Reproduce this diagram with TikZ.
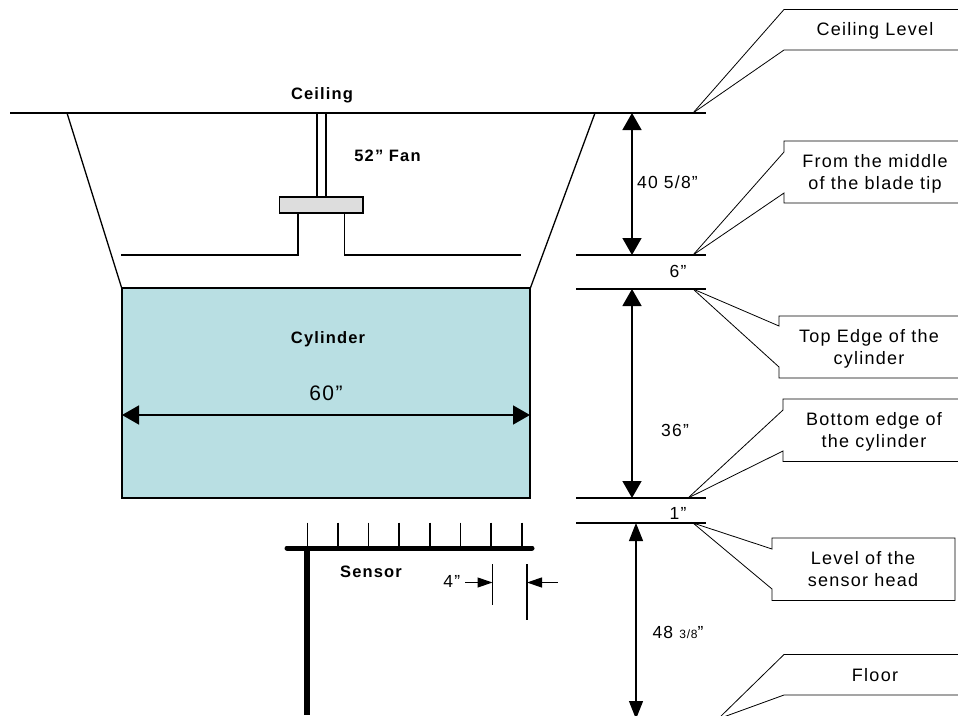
\documentclass[tikz,border=0pt]{standalone}
\usepackage{fontspec}
\setmainfont[LetterSpace=7]{Liberation Sans}
\usepackage{xcolor}
\usetikzlibrary{arrows.meta}
\definecolor{CylFill}{HTML}{B9DFE3}
\definecolor{HubFill}{HTML}{DDDDDD}
\tikzset{
  txt/.style={inner sep=0pt, font=\fontsize{18}{22}\selectfont, align=center},
  txtd/.style={inner sep=0pt, font=\fontsize{17.5}{20}\selectfont},
  txtb/.style={inner sep=0pt, font=\fontsize{16.5}{20}\selectfont\bfseries},
  dim/.style={line width=1.5pt, {Triangle[width=19pt,length=17pt]}-{Triangle[width=19pt,length=17pt]}},
  dimthin/.style={line width=1.1pt, {Triangle[width=14pt,length=18pt]}-{Triangle[width=14pt,length=18pt]}},
  tick/.style={{Triangle[width=10pt,length=15pt]}-},
  lvl/.style={line width=1.3pt},
  call/.style={line width=0.8pt, line join=miter}
}

\begin{document}
\begin{tikzpicture}[x=1pt, y=-1pt, line width=1.2pt]

  \useasboundingbox (0,0) rectangle (958,715);
  \clip (0,0) rectangle (958,715);

  \newcommand\CEIL{113}
  \newcommand\TIP{255}
  \newcommand\TOPC{289}
  \newcommand\BOTC{498}
  \newcommand\HEAD{523}
  \newcommand\FLR{719}

  %% room
  \draw[lvl] (10, \CEIL) -- (706, \CEIL); % ceiling
  \draw[lvl] (67, \CEIL) -- (122, \TOPC);
  \draw[lvl] (595, \CEIL) -- (530, \TOPC);

  %% cylinder
  \draw[lvl, fill=CylFill] (122, 288) rectangle (530, 498);
  \coordinate (cylL) at (122, 415);
  \coordinate (cylR) at (530, 415);
  \draw[dim] (cylL) -- (cylR);

  %% fan
  \draw[lvl] (317, \CEIL) -- (317, 197);
  \draw[lvl] (326, \CEIL) -- (326, 197);
  \draw[lvl, fill=HubFill] (279.5, 197) rectangle (363, 213);
  \draw[lvl] (121, \TIP) -- (298, \TIP) -- (298, 213);
  \draw[lvl] (344.5, 213) -- (344.5, \TIP) -- (521, \TIP);

  %% level lines
  \draw[lvl] (576, \TIP) -- (706, \TIP);
  \draw[lvl] (576, \TOPC) -- (706, \TOPC);
  \draw[lvl] (576, \BOTC) -- (706, \BOTC);
  \draw[lvl] (576, \HEAD) -- (706, \HEAD);

  %% dimensions
  \coordinate (dimA) at (632, \CEIL);
  \coordinate (dimB) at (632, \TIP);
  \coordinate (dimC) at (632, \TOPC);
  \coordinate (dimD) at (632, \BOTC);
  \coordinate (dimE) at (636, \HEAD);
  \coordinate (dimF) at (636, \FLR);
  \draw[dim] (dimA) -- (dimB);
  \draw[dim] (dimC) -- (dimD);
  \draw[dimthin] (dimE) -- (dimF);

  %% sensor
  \draw[line width=5pt, line cap=round] (287, 548) -- (532, 548);
  \draw[line width=6pt] (307, 548) -- (307, 715);
  \draw[lvl] (307.5, 522.5) -- (307.5, 548) (338, 522.5) -- (338, 548)
    (368.7, 522.5) -- (368.7, 548) (399, 522.5) -- (399, 548)
    (430, 522.5) -- (430, 548) (460.3, 522.5) -- (460.3, 548)
    (491, 522.5) -- (491, 548) (522, 522.5) -- (522, 548);

  %% 4" spacing
  \coordinate (gapL) at (492.5, 582.5);
  \coordinate (gapR) at (527, 582.5);
  \coordinate (gapLo) at (465, 582.5);
  \coordinate (gapRo) at (557.5, 582.5);
  \draw (492.5, 564) -- (492.5, 604.5);
  \draw (527, 564) -- (527, 620);
  \draw[tick] (gapL) -- (gapLo);
  \draw[tick] (gapR) -- (gapRo);

  %% callouts
  \coordinate (tipA) at (693, \CEIL);
  \coordinate (tipB) at (693, \TIP);
  \coordinate (tipC) at (693, \TOPC);
  \coordinate (tipD) at (688, \BOTC);
  \coordinate (tipE) at (693, \HEAD);
  \coordinate (tipF) at (718, \FLR);

  \draw[call] (tipA) -- (784, 9.5) -- (958, 9.5); % ceiling level
  \draw[call] (tipA) -- (784, 50) -- (958, 50);

  \draw[call] (tipB) -- (784, 152) -- (784, 141) -- (958, 141); % blade tip
  \draw[call] (tipB) -- (784, 193) -- (784, 203) -- (958, 203);

  \draw[call] (tipC) -- (779, 326) -- (779, 316) -- (958, 316); % top edge
  \draw[call] (tipC) -- (779, 367) -- (779, 378) -- (958, 378);

  \draw[call] (tipD) -- (783, 410) -- (783, 399) -- (958, 399); % bottom edge
  \draw[call] (tipD) -- (783, 451) -- (783, 461.5) -- (958, 461.5);

  \draw[call] (tipE) -- (772, 549) -- (772, 538) -- (955, 538)
    -- (955, 600.5) -- (772, 600.5) -- (772, 589) -- cycle; % sensor head

  \draw[call] (tipF) -- (784, 654.5) -- (958, 654.5); % floor
  \draw[call] (tipF) -- (784, 695) -- (958, 695);

  %% labels
  \node[txtb] (ceilingtxt) at (322, 95) {Ceiling};
  \node[txtb] (fantxt) at (387.5, 156) {52” Fan};
  \node[txtb] (cyltxt) at (328, 339) {Cylinder};
  \node[txtb] (sensortxt) at (371, 572) {Sensor};
  \node[txt, font=\fontsize{21}{24}\selectfont] (widthtxt) at (326, 393) {60”};
  \node[txtd] (gaptxt) at (451.7, 581) {4"};

  \node[txtd] (dimAtxt) at (667.5, 182) {40 5/8"};
  \node[txtd] (dimBtxt) at (678, 271) {6”};
  \node[txtd] (dimCtxt) at (675, 430) {36”};
  \node[txtd] (dimDtxt) at (678, 513) {1”};
  \node[txtd] (dimEtxt) at (678, 632) {48 {\fontsize{12}{12}\selectfont 3/8}”};

  \node[txt] (calltxtA) at (875, 30.5) {Ceiling Level};
  \node[txt] (calltxtB) at (875, 174) {From the middle\\of the blade tip};
  \node[txt] (calltxtC) at (869, 349) {Top Edge of the\\cylinder};
  \node[txt] (calltxtD) at (874, 432) {Bottom edge of\\the cylinder};
  \node[txt] (calltxtE) at (863, 569) {Level of the\\sensor head};
  \node[txt] (calltxtF) at (875, 675) {Floor};

\end{tikzpicture}
\end{document}
